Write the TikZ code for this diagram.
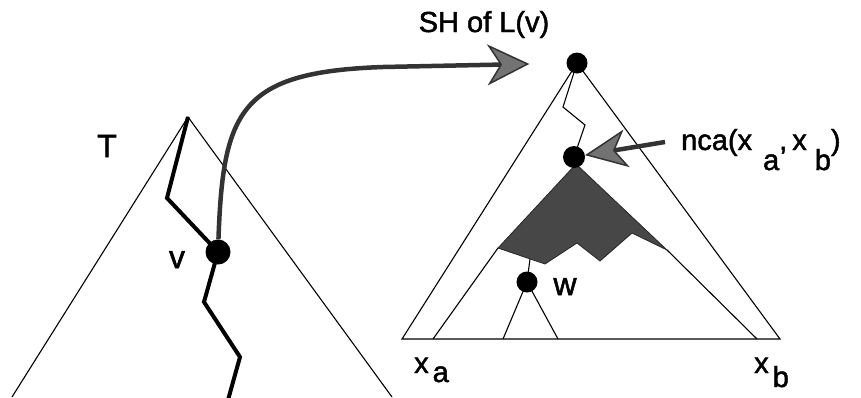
\documentclass[tikz,border=0pt]{standalone}
\usepackage{fontspec}
\setmainfont{Liberation Sans}
\newfontfamily\hvfont[FakeBold=1.6]{Liberation Sans}
\usetikzlibrary{arrows.meta}
\begin{document}
\begin{tikzpicture}[x=1pt,y=-1pt,
  thinline/.style={line width=1.1pt, line join=miter},
  heavy/.style={line width=4pt, line join=miter},
  dot/.style={circle, fill=black, inner sep=0pt},
  lbl/.style={inner sep=0pt, font=\hvfont\fontsize{29}{32}\selectfont},
  biglbl/.style={inner sep=0pt, font=\hvfont\fontsize{32}{36}\selectfont},
  shade/.style={fill=black!72, draw=black!85, line width=0.8pt, line join=miter},
  curvearrow/.style={line width=4.5pt, draw=black!80,
    -{Stealth[length=42pt,width=41pt,inset=13pt,fill=black!55,line width=1.5pt]}},
  ncaarrow/.style={line width=4.5pt, draw=black!80,
    -{Stealth[length=42pt,width=38pt,inset=12pt,fill=black!55,line width=1.5pt]}},
]
\useasboundingbox (0,0) rectangle (861,397);
\clip (0,0) rectangle (861,397);

% ---- left tree T ----
\coordinate (Ttop) at (188,117);
\coordinate (TL) at (12,397);
\coordinate (TR) at (392,397);
\coordinate (vpos) at (218,252);
\draw[thinline] (TL) -- (Ttop) -- (TR);
\draw[heavy] (Ttop) -- (167,198) -- (vpos) -- (204,302) -- (240,357) -- (228,400);
\node[dot, minimum size=25pt] (v) at (vpos) {};
\node[biglbl, anchor=base] (Tlabel) at (107,157) {T};
\node[biglbl, anchor=base] (vlabel) at (177,268) {v};

% ---- right tree (SH of L(v)) ----
\coordinate (rpos) at (577,63);
\coordinate (BL) at (402,339);
\coordinate (BR) at (780,339);
\coordinate (ncapos) at (574,157);
\coordinate (wpos) at (527,282);
\coordinate (shL) at (498,248);
\coordinate (shR) at (667,250);
\coordinate (ila) at (433,339);
\coordinate (irb) at (757,339);
\coordinate (wl) at (503,339);
\coordinate (wr) at (558,339);
\coordinate (wtop) at (530,259);

\draw[thinline] (BL) -- (rpos) -- (BR) -- cycle;
\draw[thinline] (rpos) -- (563,107) -- (585,125) -- (ncapos);
\draw[shade] (576,164) -- (shR) -- (632,233) -- (600,261) -- (577,243)
  -- (545,264) -- (shL) -- cycle;
\draw[thinline] (shL) -- (ila);
\draw[thinline] (shR) -- (irb);
\draw[thinline] (wtop) -- (wpos);
\draw[thinline] (wl) -- (wpos) -- (wr);

\node[dot, minimum size=21pt] (r) at (rpos) {};
\node[dot, minimum size=22pt] (nca) at (ncapos) {};
\node[dot, minimum size=21pt] (w) at (wpos) {};
\node[biglbl, anchor=base] (wlabel) at (565,295) {w};

\node[lbl, anchor=base] (shlabel) at (484,32) {SH of L(v)};
\node[lbl, anchor=base west] (xa) at (414,373) {x\hspace{4pt}\raisebox{-9pt}{a}};
\node[lbl, anchor=base west] (xb) at (754,373) {x\hspace{4pt}\raisebox{-14pt}{b}};
\node[lbl, anchor=base west] (ncalabel) at (681,150)
  {nca(x\hspace{11pt}\raisebox{-20pt}{a},\hspace{5pt}x\hspace{8pt}\raisebox{-20pt}{b})};
\coordinate (ncastart) at (665,142);

% ---- connectors ----
\draw[curvearrow, shorten >=37pt] (v) .. controls (223,110) and (240,72) .. (383,67) -- (r);
\draw[ncaarrow] (ncastart) -- (nca);
\end{tikzpicture}
\end{document}
